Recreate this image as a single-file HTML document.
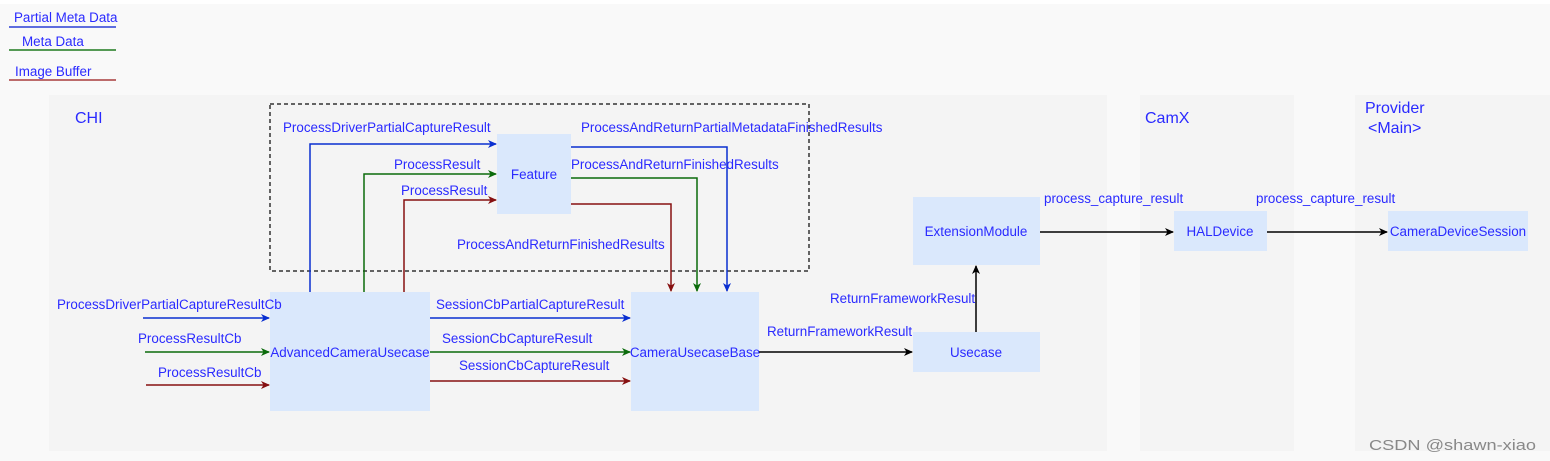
<!DOCTYPE html>
<html><head><meta charset="utf-8"><style>
html,body{margin:0;padding:0;background:#fff;}
svg{display:block;}
text{font-family:"Liberation Sans",sans-serif;font-size:13.4px;fill:#2a2aff;}
</style></head><body>
<svg width="1550" height="461" viewBox="0 0 1550 461" xmlns="http://www.w3.org/2000/svg">
<defs>
<marker id="ab" markerWidth="10" markerHeight="10" refX="8" refY="5" orient="auto" markerUnits="userSpaceOnUse"><path d="M0,1 L9,5 L0,9 L2.5,5 z" fill="#0a2fd0"/></marker>
<marker id="ag" markerWidth="10" markerHeight="10" refX="8" refY="5" orient="auto" markerUnits="userSpaceOnUse"><path d="M0,1 L9,5 L0,9 L2.5,5 z" fill="#0b6b0b"/></marker>
<marker id="ar" markerWidth="10" markerHeight="10" refX="8" refY="5" orient="auto" markerUnits="userSpaceOnUse"><path d="M0,1 L9,5 L0,9 L2.5,5 z" fill="#861010"/></marker>
<marker id="ak" markerWidth="10" markerHeight="10" refX="8" refY="5" orient="auto" markerUnits="userSpaceOnUse"><path d="M0,1 L9,5 L0,9 L2.5,5 z" fill="#000"/></marker>
</defs>
<rect x="0" y="4" width="1550" height="457" fill="#f9f9f9"/>
<rect x="49" y="95" width="1058" height="356" fill="#f4f4f4"/>
<rect x="1140" y="95" width="154" height="356" fill="#f4f4f4"/>
<rect x="1355" y="95" width="195" height="356" fill="#f4f4f4"/>

<text x="14" y="22">Partial Meta Data</text>
<line x1="9" y1="27" x2="116" y2="27" stroke="#2a3fd6" stroke-width="1.5"/>
<text x="22" y="46">Meta Data</text>
<line x1="9" y1="50" x2="116" y2="50" stroke="#1f7a1f" stroke-width="1.5"/>
<text x="15" y="76">Image Buffer</text>
<line x1="9" y1="80" x2="116" y2="80" stroke="#a83c3c" stroke-width="1.5"/>

<text x="75" y="123" style="font-size:16px">CHI</text>
<text x="1145" y="123" style="font-size:16px">CamX</text>
<text x="1365" y="113" style="font-size:16px">Provider</text>
<text x="1368" y="133" style="font-size:16px">&lt;Main&gt;</text>

<rect x="270" y="104" width="539" height="167" fill="none" stroke="#333" stroke-width="1.5" stroke-dasharray="4,3"/>

<g fill="#dae8fc">
<rect x="497" y="134" width="74" height="80"/>
<rect x="270" y="292" width="160" height="119"/>
<rect x="631" y="292" width="128" height="119"/>
<rect x="913" y="197" width="127" height="68"/>
<rect x="913" y="332" width="127" height="40"/>
<rect x="1174" y="211" width="93" height="40"/>
<rect x="1388" y="211" width="140" height="40"/>
</g>
<text x="534" y="179" text-anchor="middle">Feature</text>
<text x="350" y="357" text-anchor="middle">AdvancedCameraUsecase</text>
<text x="695" y="357" text-anchor="middle">CameraUsecaseBase</text>
<text x="976" y="236" text-anchor="middle">ExtensionModule</text>
<text x="976" y="357" text-anchor="middle">Usecase</text>
<text x="1220" y="236" text-anchor="middle">HALDevice</text>
<text x="1458" y="236" text-anchor="middle">CameraDeviceSession</text>

<g fill="none" stroke-width="1.5">
<path d="M310,292 V144 H496" stroke="#0a2fd0" marker-end="url(#ab)"/>
<path d="M364,292 V174 H496" stroke="#0b6b0b" marker-end="url(#ag)"/>
<path d="M404,292 V200 H496" stroke="#861010" marker-end="url(#ar)"/>
<path d="M571,147 H727 V291" stroke="#0a2fd0" marker-end="url(#ab)"/>
<path d="M571,178 H697 V291" stroke="#0b6b0b" marker-end="url(#ag)"/>
<path d="M571,204 H671 V291" stroke="#861010" marker-end="url(#ar)"/>
<path d="M143,318 H269" stroke="#0a2fd0" marker-end="url(#ab)"/>
<path d="M145,352 H269" stroke="#0b6b0b" marker-end="url(#ag)"/>
<path d="M146,385 H269" stroke="#861010" marker-end="url(#ar)"/>
<path d="M430,318 H630" stroke="#0a2fd0" marker-end="url(#ab)"/>
<path d="M430,352 H630" stroke="#0b6b0b" marker-end="url(#ag)"/>
<path d="M430,381 H630" stroke="#861010" marker-end="url(#ar)"/>
<path d="M759,352 H912" stroke="#000" marker-end="url(#ak)"/>
<path d="M976,332 V266" stroke="#000" marker-end="url(#ak)"/>
<path d="M1040,232 H1173" stroke="#000" marker-end="url(#ak)"/>
<path d="M1267,232 H1387" stroke="#000" marker-end="url(#ak)"/>
</g>

<text x="283" y="132">ProcessDriverPartialCaptureResult</text>
<text x="581" y="132">ProcessAndReturnPartialMetadataFinishedResults</text>
<text x="394" y="169">ProcessResult</text>
<text x="571" y="169">ProcessAndReturnFinishedResults</text>
<text x="401" y="195">ProcessResult</text>
<text x="457" y="249">ProcessAndReturnFinishedResults</text>
<text x="57" y="309">ProcessDriverPartialCaptureResultCb</text>
<text x="138" y="343">ProcessResultCb</text>
<text x="158" y="377">ProcessResultCb</text>
<text x="436" y="309">SessionCbPartialCaptureResult</text>
<text x="442" y="343">SessionCbCaptureResult</text>
<text x="459" y="370">SessionCbCaptureResult</text>
<text x="767" y="336">ReturnFrameworkResult</text>
<text x="830" y="303">ReturnFrameworkResult</text>
<text x="1044" y="203">process_capture_result</text>
<text x="1256" y="203">process_capture_result</text>
<text x="1369" y="450" textLength="167" lengthAdjust="spacingAndGlyphs" style="fill:#888;font-size:15px">CSDN @shawn-xiao</text>
</svg>
</body></html>
